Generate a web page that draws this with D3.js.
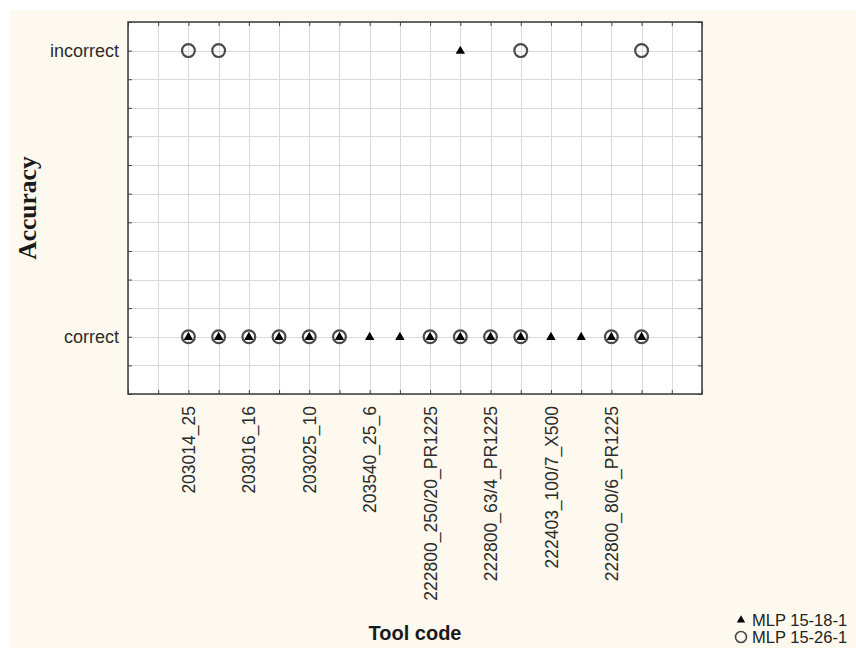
<!DOCTYPE html>
<html>
<head>
<meta charset="utf-8">
<script src="https://cdn.jsdelivr.net/npm/d3@7"></script>
<style>
  html, body { margin: 0; padding: 0; background: #ffffff; }
  svg { display: block; }
</style>
</head>
<body>
<svg id="chart" width="856" height="650"></svg>
<script>
// ---- data ----
const caseNumbers = [1, 2, 3, 4, 5, 6, 7, 8, 9, 10, 11, 12, 13, 14, 15, 16];
const accuracyLevels = ["correct", "incorrect"];
const accuracyValues = [0, 1];
const toolCodeTicks = [1, 3, 5, 7, 9, 11, 13, 15];
const toolCodes = ["203014_25", "203016_16", "203025_10", "203540_25_6",
  "222800_250/20_PR1225", "222800_63/4_PR1225", "222403_100/7_X500", "222800_80/6_PR1225"];
// case numbers where each network's answer falls at each accuracy level
const mlp15181Correct = [1, 2, 3, 4, 5, 6, 7, 8, 9, 10, 11, 12, 13, 14, 15, 16];
const mlp15181Incorrect = [10];
const mlp15261Correct = [1, 2, 3, 4, 5, 6, 9, 10, 11, 12, 15, 16];
const mlp15261Incorrect = [1, 2, 12, 16];
const seriesNames = ["MLP 15-18-1", "MLP 15-26-1"];

// ---- layout ----
const sans = "'Liberation Sans', Arial, sans-serif";
const serif = "'Liberation Serif', 'Times New Roman', serif";
const svg = d3.select("#chart");
const W = 856, H = 650;
const plot = { left: 128, top: 22, right: 702, bottom: 394 };

svg.append("rect").attr("x", 10).attr("y", 10).attr("width", W - 10).attr("height", H - 12)
  .attr("fill", "#fdf9ee");

const x = d3.scaleLinear().domain([-1, 18]).range([plot.left, plot.right]);
const y = d3.scaleLinear().domain([-0.2, 1.1]).range([plot.bottom, plot.top]);
const levelValue = name => accuracyValues[accuracyLevels.indexOf(name)];

svg.append("rect").attr("x", plot.left).attr("y", plot.top)
  .attr("width", plot.right - plot.left).attr("height", plot.bottom - plot.top)
  .attr("fill", "#ffffff");

// grid
const xGrid = x.ticks(20);
const yGrid = y.ticks(13);
const grid = svg.append("g").attr("stroke", "#d9d9d9").attr("stroke-width", 1);
grid.selectAll("line.vx").data(xGrid).join("line")
  .attr("x1", d => Math.round(x(d)) + 0.5).attr("x2", d => Math.round(x(d)) + 0.5)
  .attr("y1", plot.top).attr("y2", plot.bottom);
grid.selectAll("line.hy").data(yGrid).join("line")
  .attr("y1", d => Math.round(y(d)) + 0.5).attr("y2", d => Math.round(y(d)) + 0.5)
  .attr("x1", plot.left).attr("x2", plot.right);

// inward tick marks on all four sides
const tickLen = 4;
function styleTicks(g) {
  g.select(".domain").remove();
  g.selectAll(".tick line").attr("stroke", "#444").attr("stroke-width", 1);
  g.selectAll(".tick text").remove();
}
svg.append("g").attr("transform", `translate(0,${plot.bottom})`)
  .call(d3.axisBottom(x).tickValues(xGrid).tickSize(-tickLen)).call(styleTicks);
svg.append("g").attr("transform", `translate(0,${plot.top})`)
  .call(d3.axisTop(x).tickValues(xGrid).tickSize(-tickLen)).call(styleTicks);
svg.append("g").attr("transform", `translate(${plot.left},0)`)
  .call(d3.axisLeft(y).tickValues(yGrid).tickSize(-tickLen)).call(styleTicks);
svg.append("g").attr("transform", `translate(${plot.right},0)`)
  .call(d3.axisRight(y).tickValues(yGrid).tickSize(-tickLen)).call(styleTicks);

// frame
svg.append("rect").attr("x", plot.left).attr("y", plot.top)
  .attr("width", plot.right - plot.left).attr("height", plot.bottom - plot.top)
  .attr("fill", "none").attr("stroke", "#3a3a3a").attr("stroke-width", 1.5);

// y tick labels
const yAxis = svg.append("g").attr("transform", `translate(${plot.left},0)`)
  .call(d3.axisLeft(y).tickValues(accuracyValues)
    .tickFormat(v => accuracyLevels[accuracyValues.indexOf(v)]).tickSize(0).tickPadding(9));
yAxis.select(".domain").remove();
yAxis.selectAll("text").style("font-size", "18px").style("fill", "#2b2b2b")
  .style("font-family", sans);

// x tick labels
const xAxis = svg.append("g").attr("transform", `translate(0,${plot.bottom})`)
  .call(d3.axisBottom(x).tickValues(toolCodeTicks)
    .tickFormat(v => toolCodes[toolCodeTicks.indexOf(v)]).tickSize(0));
xAxis.select(".domain").remove();
xAxis.selectAll("text")
  .style("font-size", "17.5px").style("fill", "#2b2b2b")
  .style("font-family", sans)
  .attr("transform", "rotate(-90)")
  .attr("text-anchor", "end")
  .attr("x", -12).attr("y", 0).attr("dy", "0.35em");

// axis titles
svg.append("text").attr("x", 415).attr("y", 640).attr("text-anchor", "middle")
  .style("font-family", sans).style("font-size", "20px").style("font-weight", "bold")
  .style("fill", "#1a1a1a")
  .text("Tool code");
svg.append("text").attr("transform", "translate(36,208) rotate(-90)")
  .attr("text-anchor", "middle")
  .style("font-family", serif).style("font-size", "25.5px").style("font-weight", "bold")
  .style("fill", "#1a1a1a")
  .text("Accuracy");

// markers
const triangle = d3.symbol().type(d3.symbolTriangle).size(38);
const circleR = 6.4;

const circlePts = mlp15261Correct.map(c => [c, levelValue("correct")])
  .concat(mlp15261Incorrect.map(c => [c, levelValue("incorrect")]));
const trianglePts = mlp15181Correct.map(c => [c, levelValue("correct")])
  .concat(mlp15181Incorrect.map(c => [c, levelValue("incorrect")]));

svg.append("g").selectAll("circle").data(circlePts).join("circle")
  .attr("cx", d => x(d[0])).attr("cy", d => y(d[1])).attr("r", circleR)
  .attr("fill", "none").attr("stroke", "#4a4a4a").attr("stroke-width", 2.2);

svg.append("g").selectAll("path").data(trianglePts).join("path")
  .attr("d", triangle)
  .attr("transform", d => `translate(${x(d[0])},${y(d[1]) + 0.5})`)
  .attr("fill", "#000");

// legend
const legend = svg.append("g").attr("transform", "translate(741,620)");
legend.append("path").attr("d", d3.symbol().type(d3.symbolTriangle).size(30))
  .attr("fill", "#000");
legend.append("circle").attr("cy", 17).attr("r", 5.5)
  .attr("fill", "none").attr("stroke", "#4a4a4a").attr("stroke-width", 1.6);
legend.selectAll("text").data(seriesNames).join("text")
  .attr("x", 11).attr("y", (d, i) => i * 17).attr("dy", "0.35em")
  .style("font-family", sans).style("font-size", "16.5px").style("fill", "#222")
  .text(d => d);
</script>
</body>
</html>
